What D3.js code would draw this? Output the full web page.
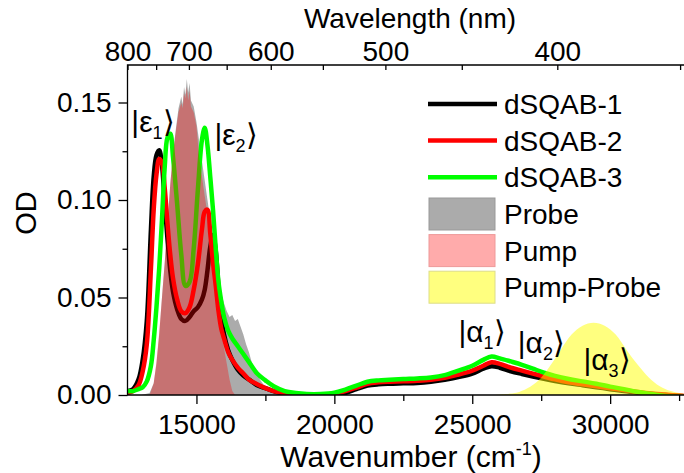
<!DOCTYPE html>
<html>
<head>
<meta charset="utf-8">
<script src="https://cdn.jsdelivr.net/npm/d3@7"></script>
<style>
  html, body { margin: 0; padding: 0; background: #fff; overflow: hidden; }
  svg { display: block; font-family: "Liberation Sans", Arial, sans-serif; }
</style>
</head>
<body>
<div class="chart"></div>
<script>
// wavenumber grid (cm-1) shared by the three dSQAB spectra
const wavenumber = [12500, 12700, 12900, 13050, 13200, 13350, 13450, 13550, 13650, 13750, 13850, 13950,
  14050, 14150, 14300, 14450, 14600, 14750, 14900, 15050, 15200, 15300, 15400, 15500, 15600, 15700,
  15800, 15900, 16000, 16150, 16300, 16500, 16700, 16900, 17200, 17500, 17800, 18200, 18600, 19000,
  19500, 20000, 20400, 20800, 21200, 21600, 22000, 22500, 23000, 23500, 24000, 24500, 25000, 25400,
  25700, 26000, 26400, 26800, 27200, 27600, 28000, 28500, 29000, 29500, 30000, 30500, 31000, 31500,
  32000, 32500, 33000];

const dsqab1 = [0.002, 0.003, 0.008, 0.018, 0.038, 0.085, 0.112, 0.123, 0.1255, 0.118, 0.098, 0.080,
  0.064, 0.053, 0.044, 0.039, 0.038, 0.040, 0.043, 0.045, 0.049, 0.054, 0.064, 0.076, 0.082, 0.074,
  0.055, 0.040, 0.031, 0.023, 0.018, 0.013, 0.010, 0.008, 0.005, 0.0035, 0.002, 0.0005, -0.0005, -0.001,
  -0.001, 0.000, 0.001, 0.003, 0.0048, 0.0055, 0.0058, 0.006, 0.0062, 0.0068, 0.0078, 0.0092, 0.011, 0.0135,
  0.0148, 0.014, 0.0122, 0.0108, 0.0095, 0.0083, 0.0072, 0.006, 0.005, 0.004, 0.003, 0.002, 0.0012, 0.0005,
  0.0, -0.0005, -0.001];

const dsqab2 = [0.001, 0.002, 0.005, 0.012, 0.026, 0.065, 0.095, 0.113, 0.121, 0.119, 0.106, 0.088,
  0.072, 0.060, 0.049, 0.043, 0.042, 0.045, 0.054, 0.067, 0.085, 0.094, 0.095, 0.083, 0.068, 0.056,
  0.043, 0.034, 0.029, 0.022, 0.018, 0.014, 0.011, 0.008, 0.0055, 0.0035, 0.002, 0.001, 0.0, 0.0,
  0.0, 0.0008, 0.002, 0.0038, 0.0058, 0.0065, 0.0068, 0.007, 0.0073, 0.0078, 0.0088, 0.0105, 0.0125, 0.015,
  0.0168, 0.016, 0.014, 0.0125, 0.011, 0.0095, 0.008, 0.0065, 0.0055, 0.0045, 0.0035, 0.0025, 0.0016, 0.0008,
  0.0002, -0.0003, -0.0008];

const dsqab3 = [0.002, 0.002, 0.003, 0.004, 0.007, 0.015, 0.028, 0.045, 0.065, 0.090, 0.117, 0.132,
  0.134, 0.122, 0.098, 0.072, 0.056, 0.058, 0.075, 0.105, 0.131, 0.137, 0.128, 0.112, 0.095, 0.075,
  0.058, 0.048, 0.040, 0.033, 0.029, 0.025, 0.021, 0.017, 0.011, 0.0075, 0.0045, 0.002, 0.001, 0.0005,
  0.0005, 0.0012, 0.0028, 0.0048, 0.0068, 0.0075, 0.0078, 0.0082, 0.0085, 0.009, 0.0102, 0.0125, 0.015, 0.018,
  0.0197, 0.0188, 0.0172, 0.0155, 0.0135, 0.0115, 0.0098, 0.0082, 0.007, 0.0058, 0.0043, 0.003, 0.0015, 0.0005,
  -0.0005, -0.001, -0.0015];

// laser spectra (filled areas)
const probeWn = [13000, 13300, 13450, 13550, 13650, 13750, 13850, 13950, 14050, 14150, 14250, 14350,
  14450, 14500, 14550, 14600, 14650, 14700, 14750, 14800, 14900, 15000, 15100, 15200, 15300, 15400,
  15500, 15600, 15700, 15800, 15900, 16000, 16100, 16200, 16300, 16400, 16500, 16600, 16700, 16800,
  16900, 17000, 17150, 17300, 17500, 17700, 18000];
const probeOD = [0, 0.001, 0.006, 0.016, 0.031, 0.050, 0.068, 0.088, 0.108, 0.124, 0.136, 0.147,
  0.153, 0.149, 0.158, 0.154, 0.162, 0.155, 0.160, 0.151, 0.148, 0.140, 0.130, 0.120, 0.110, 0.100,
  0.090, 0.080, 0.069, 0.060, 0.052, 0.047, 0.043, 0.040, 0.041, 0.038, 0.039, 0.035, 0.031, 0.026,
  0.022, 0.017, 0.012, 0.008, 0.004, 0.002, 0];

const pumpWn = [13300, 13450, 13550, 13650, 13750, 13850, 13950, 14050, 14150, 14250, 14350, 14450,
  14500, 14550, 14600, 14650, 14700, 14750, 14800, 14900, 15000, 15100, 15200, 15300, 15400, 15500,
  15600, 15700, 15800, 15900, 16000, 16100, 16200, 16300, 16400];
const pumpOD = [0, 0.006, 0.017, 0.032, 0.050, 0.068, 0.088, 0.108, 0.124, 0.135, 0.145, 0.150,
  0.147, 0.155, 0.152, 0.158, 0.151, 0.156, 0.148, 0.145, 0.138, 0.122, 0.112, 0.102, 0.093, 0.083,
  0.072, 0.060, 0.048, 0.035, 0.024, 0.016, 0.008, 0.002, 0];

const pumpProbeWn = [25800, 26200, 26600, 27000, 27400, 27800, 28200, 28600, 29000, 29400, 29800,
  30200, 30600, 31000, 31400, 31800, 32200, 32600, 33000];
const pumpProbeOD = [0, 0.0005, 0.0012, 0.0035, 0.0075, 0.0145, 0.023, 0.031, 0.0355, 0.037, 0.0355,
  0.031, 0.023, 0.0155, 0.009, 0.0045, 0.002, 0.0008, 0.0002];

const seriesNames = ["dSQAB-1", "dSQAB-2", "dSQAB-3"];
const seriesColors = ["#000000", "#ff0000", "#00ff00"];
const fillNames = ["Probe", "Pump", "Pump-Probe"];
const fillColors = ["rgba(150,150,150,0.8)", "rgba(255,0,0,0.33)", "rgba(255,255,0,0.5)"];
const fillStrokes = ["#999999", "#ee9999", "#dddd88"];

const yTicks = [0, 0.05, 0.10, 0.15];
const xTicks = [15000, 20000, 25000, 30000];
const nmMajor = [800, 700, 600, 500, 400];
const nmMinor = [750, 650, 550, 450, 350];

// kets: [main, subscript, wavenumber, OD]
const kets = [["ε", "1", 12640, 0.135], ["ε", "2", 15650, 0.128],
  ["α", "1", 24500, 0.027], ["α", "2", 26650, 0.0215], ["α", "3", 29030, 0.0128]];

const W = 684, H = 473;
const mLeft = 127.5, mRight = 693, mTop = 65, mBottom = 395;

const svg = d3.select('.chart').append('svg')
  .attr('width', W).attr('height', H);

const x = d3.scaleLinear().domain([12500, 33000]).range([mLeft, mLeft + 20500 * 0.02758]);
const y = d3.scaleLinear().domain([0, 0.15]).range([mBottom, 102.5]);
// top axis: reciprocal wavelength, drawn with its own stretch
const xTop = d3.scaleLinear().domain([12500, 12500 + (mRight - mLeft) / 0.034384]).range([mLeft, mRight]);

svg.append('defs').append('clipPath').attr('id', 'plot')
  .append('rect').attr('x', mLeft).attr('y', mTop).attr('width', mRight - mLeft).attr('height', mBottom - mTop);

const plot = svg.append('g').attr('clip-path', 'url(#plot)');

const area = d3.area()
  .x(d => x(d[0])).y0(y(0)).y1(d => y(d[1]));
const line = d3.line()
  .x(d => x(d[0])).y(d => y(d[1]))
  .curve(d3.curveCatmullRom.alpha(0.5));

plot.append('path')
  .datum(d3.zip(probeWn, probeOD))
  .attr('fill', fillColors[0]).attr('d', area);

[dsqab1, dsqab2, dsqab3].forEach((vals, i) => {
  plot.append('path')
    .datum(d3.zip(wavenumber, vals))
    .attr('fill', 'none')
    .attr('stroke', seriesColors[i])
    .attr('stroke-width', 4.5)
    .attr('stroke-linejoin', 'round')
    .attr('d', line);
});

plot.append('path')
  .datum(d3.zip(pumpWn, pumpOD))
  .attr('fill', fillColors[1]).attr('d', area);

plot.append('path')
  .datum(d3.zip(pumpProbeWn, pumpProbeOD))
  .attr('fill', fillColors[2])
  .attr('d', area.curve(d3.curveCatmullRom));

// axes
const fs = 28;
svg.append('g').attr('transform', `translate(0,${mBottom})`)
  .call(d3.axisBottom(x).tickValues(xTicks).tickSize(9).tickPadding(10).tickFormat(d3.format('d')));
svg.append('g').attr('transform', `translate(0,${mBottom})`)
  .call(d3.axisBottom(x).tickValues([17500, 22500, 27500, 32500]).tickSize(6).tickFormat(''));

svg.append('g').attr('transform', `translate(${mLeft},0)`)
  .call(d3.axisLeft(y).tickValues(yTicks).tickSize(9).tickPadding(7).tickFormat(d3.format('.2f')));
svg.append('g').attr('transform', `translate(${mLeft},0)`)
  .call(d3.axisLeft(y).tickValues([0.025, 0.075, 0.125]).tickSize(5).tickFormat(''));

svg.append('g').attr('transform', `translate(0,${mTop})`)
  .call(d3.axisTop(xTop).tickValues(nmMajor.map(n => 1e7 / n)).tickSize(-5).tickPadding(4)
    .tickFormat(d => Math.round(1e7 / d)));
svg.append('g').attr('transform', `translate(0,${mTop})`)
  .call(d3.axisTop(xTop).tickValues(nmMinor.map(n => 1e7 / n)).tickSize(-5).tickFormat(''));

svg.selectAll('.domain').remove();
svg.selectAll('.tick line').attr('stroke', '#000').attr('stroke-width', 1.3);
svg.selectAll('.tick text').attr('font-size', fs).attr('fill', '#000')
  .attr('font-family', '"Liberation Sans", Arial, sans-serif');

// frame
svg.append('path')
  .attr('d', `M${mRight},${mTop}H${mLeft}V${mBottom}H${mRight}`)
  .attr('fill', 'none').attr('stroke', '#000').attr('stroke-width', 1.3);

// titles
svg.append('text').attr('x', 410).attr('y', 28).attr('text-anchor', 'middle')
  .attr('font-size', 28).text('Wavelength (nm)');

const xt = svg.append('text').attr('x', 411).attr('y', 467).attr('text-anchor', 'middle')
  .attr('font-size', 30);
xt.append('tspan').text('Wavenumber (cm');
xt.append('tspan').attr('font-size', 18).attr('dy', -12).text('-1');
xt.append('tspan').attr('dy', 12).text(')');

svg.append('text').attr('transform', 'translate(36,213) rotate(-90)')
  .attr('text-anchor', 'middle').attr('font-size', 29).text('OD');

// ket labels
kets.forEach(k => {
  const t = svg.append('text').attr('x', x(k[2])).attr('y', y(k[3])).attr('font-size', 30);
  t.append('tspan').text('|' + k[0]);
  t.append('tspan').attr('font-size', 18).attr('dy', 7).text(k[1]);
  t.append('tspan').attr('dy', -7).attr('font-family', '"DejaVu Sans"').attr('font-weight', 200).text('⟩');
});

// legend
const lg = svg.append('g');
seriesNames.forEach((name, i) => {
  const cy = 104 + i * 36.6;
  lg.append('line').attr('x1', 428).attr('x2', 497).attr('y1', cy).attr('y2', cy)
    .attr('stroke', seriesColors[i]).attr('stroke-width', 4.5);
  lg.append('text').attr('x', 504).attr('y', cy + 10).attr('font-size', fs).text(name);
});
fillNames.forEach((name, i) => {
  const cy = 214 + i * 36.6;
  lg.append('rect').attr('x', 429).attr('y', cy - 16).attr('width', 66).attr('height', 32)
    .attr('fill', fillColors[i]).attr('stroke', fillStrokes[i]).attr('stroke-width', 1);
  lg.append('text').attr('x', 504).attr('y', cy + 10).attr('font-size', fs).text(name);
});
</script>
</body>
</html>
